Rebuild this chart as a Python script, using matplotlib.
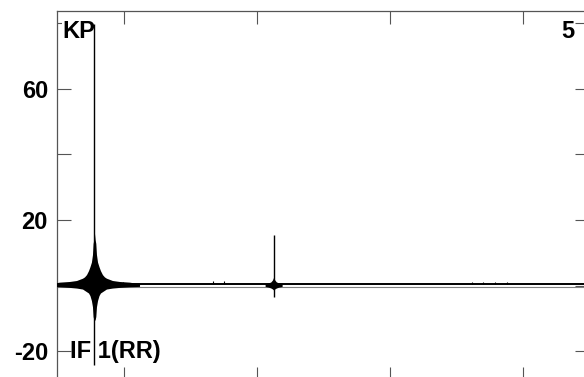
import matplotlib
matplotlib.use('Agg')
import matplotlib.pyplot as plt
import numpy as np

plt.rcParams['font.family'] = ['Liberation Sans', 'DejaVu Sans']

# ---- data ----
x_ticks = [1000, 2000, 3000, 4000]
y_ticks = [-20, 0, 20, 40, 60, 80]
y_tick_labels = ['-20', '', '20', '', '60', '']
x_range = [496, 4469]
y_range = [-28.1, 83.7]

baseline_x = [496, 4469]
baseline_upper = [0.45, 0.45]
baseline_lower = [-0.3, -0.3]

main_center = 778
main_peak_top = 79.6
main_peak_bottom = -24.2
main_dx = [0, 5, 10, 15, 23, 34, 45, 60, 75, 90, 135, 188, 263, 339]
main_upper = [16, 14, 12.9, 9.5, 7.2, 5.8, 4.6, 3.4, 2.7, 2.3, 1.6, 1.3, 1.1, 0.6]
main_lower = [-10.6, -10.3, -9.4, -6.4, -4.5, -3.0, -2.2, -1.8, -1.4, -1.0, -0.7, -0.5, -0.3, -0.2]

second_center = 2126
second_peak_top = 15.4
second_peak_bottom = -3.4
second_dx = [0, 8, 20, 40, 64]
second_upper = [2.6, 1.8, 1.2, 0.8, 0.5]
second_lower = [-1.3, -1.0, -0.7, -0.4, -0.2]

bump_x = [992, 1667, 1754, 3615, 3700, 3790, 3880]
bump_top = [1.2, 1.6, 1.3, 1.0, 1.1, 1.0, 1.0]

label_top_left = 'KP'
label_top_right = '5'
label_bottom = 'IF 1(RR)'

# ---- figure ----
W, H = 584, 377
fig = plt.figure(figsize=(W / 100, H / 100), dpi=100)
ax = fig.add_axes([57 / W, -1 / H, (585 - 57) / W, (378 - 11) / H])
ax.set_xlim(*x_range)
ax.set_ylim(*y_range)

def burst(center, dx, up, lo):
    dx = np.asarray(dx, float)
    xs = np.concatenate([center - dx[::-1], center + dx[1:]])
    ups = np.concatenate([np.asarray(up)[::-1], np.asarray(up)[1:]])
    los = np.concatenate([np.asarray(lo)[::-1], np.asarray(lo)[1:]])
    return xs, ups, los

ax.plot(baseline_x, baseline_upper, color='black', lw=1.4, zorder=2)
ax.plot(baseline_x, baseline_lower, color='#808080', lw=0.8, zorder=2)

for c, dx, up, lo, top, bot in [
        (main_center, main_dx, main_upper, main_lower, main_peak_top, main_peak_bottom),
        (second_center, second_dx, second_upper, second_lower, second_peak_top, second_peak_bottom)]:
    xs, ups, los = burst(c, dx, up, lo)
    ax.fill_between(xs, los, ups, color='black', lw=0, zorder=3)
    ax.vlines(c, bot, top, color='black', lw=1.0, zorder=3)

ax.vlines(bump_x, 0.4, bump_top, color='black', lw=0.8, zorder=2)

tick_color = '#555555'
for s in ['bottom', 'right']:
    ax.spines[s].set_visible(False)
for s in ['left', 'top']:
    ax.spines[s].set_color(tick_color)
    ax.spines[s].set_linewidth(0.9)

fs = 17
ax.set_yticks(y_ticks)
ax.set_yticklabels(y_tick_labels)
ax.tick_params(axis='y', direction='in', length=10, width=0.8, color=tick_color,
               left=True, right=False, pad=6.5, labelsize=fs)
for t in ax.get_yticklabels():
    t.set_fontweight('bold')

ax.set_xticks(x_ticks)
ax.tick_params(axis='x', direction='in', length=8, width=0.8, color=tick_color,
               bottom=True, top=False, labelbottom=False)

sec_y = ax.secondary_yaxis('right')
sec_y.set_yticks(y_ticks)
sec_y.tick_params(direction='in', length=7, width=0.8, color=tick_color, labelright=False)
sec_y.spines['right'].set_visible(False)

sec_x = ax.secondary_xaxis('top')
sec_x.set_xticks(x_ticks)
sec_x.tick_params(direction='in', length=9.5, width=0.8, color=tick_color, labeltop=False)
sec_x.spines['top'].set_visible(False)

def px(x, y):
    return x / W, 1 - y / H

ax.text(*px(62, 38.3), label_top_left, fontsize=fs, fontweight='bold', ha='left',
        va='baseline', zorder=2.6, transform=fig.transFigure, clip_on=False,
        bbox=dict(facecolor='white', edgecolor='none', pad=0))
fig.text(*px(574, 38.3), label_top_right, fontsize=fs, fontweight='bold', ha='right',
         va='baseline', zorder=5)
fig.text(*px(70.5, 358.3), label_bottom, fontsize=fs, fontweight='bold', ha='left',
         va='baseline', zorder=5)

fig.savefig('out.png', dpi=100)
